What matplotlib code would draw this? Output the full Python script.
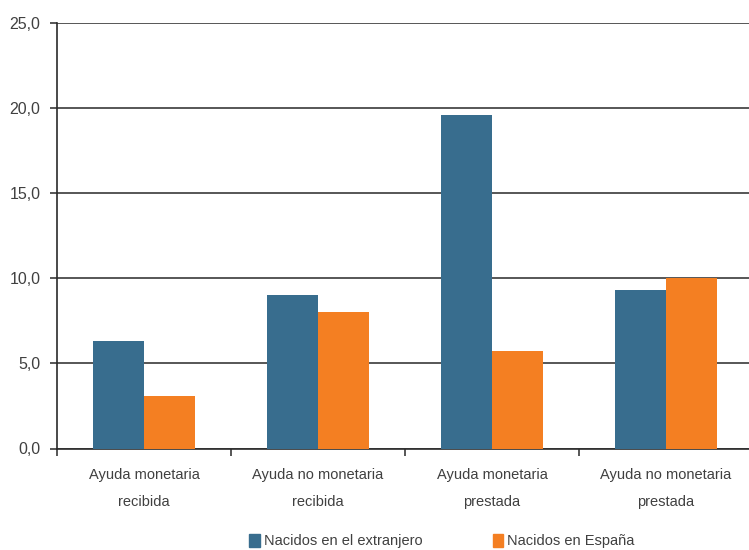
import numpy as np
import matplotlib.pyplot as plt
from matplotlib.patches import Patch
from matplotlib import font_manager

# Data
categories = ['Ayuda monetaria\nrecibida', 'Ayuda no monetaria\nrecibida',
              'Ayuda monetaria\nprestada', 'Ayuda no monetaria\nprestada']
extranjero = [6.3, 9.0, 19.6, 9.3]
espana = [3.1, 8.0, 5.7, 10.0]
series_names = ['Nacidos en el extranjero', 'Nacidos en España']

blue = '#386d8e'
orange = '#f47f22'
text_col = '#404040'

names = {f.name for f in font_manager.fontManager.ttflist}
family = ['Liberation Sans Narrow', 'DejaVu Sans'] if 'Liberation Sans Narrow' in names else ['Liberation Sans', 'DejaVu Sans']
plt.rcParams['font.family'] = family

fig = plt.figure(figsize=(7.49, 5.5), dpi=100)
# the plot area runs a few pixels past the right edge of the figure
ax = fig.add_axes([57 / 749, 101.5 / 550, 696 / 749, 425.5 / 550])

x = np.arange(len(categories))
w = 0.293
ax.bar(x - w / 2, extranjero, width=w, color=blue, zorder=3)
ax.bar(x + w / 2, espana, width=w, color=orange, zorder=3)

ax.set_xlim(-0.5, len(categories) - 0.5)
ax.set_ylim(0, 25)
ax.set_yticks(np.arange(0, 26, 5))
ax.set_yticklabels([f'{v:.1f}'.replace('.', ',') for v in np.arange(0, 26, 5)])
ax.yaxis.grid(True, color='#3a3a3a', linewidth=1.2, zorder=0)

ax.set_xticks(x)
ax.set_xticklabels(categories, linespacing=2.2)
ax.set_xticks(np.arange(-0.5, len(categories), 1), minor=True)
ax.tick_params(axis='x', which='major', length=0, pad=14, labelsize=10.5, labelcolor=text_col)
ax.tick_params(axis='x', which='minor', length=5, width=1.2, color='#3a3a3a', direction='out')
ax.tick_params(axis='y', length=5, width=1.2, color='#3a3a3a', labelsize=11.5, labelcolor=text_col, pad=7)

for s in ['top', 'right']:
    ax.spines[s].set_visible(False)
for s in ['left', 'bottom']:
    ax.spines[s].set_color('#2a2a2a')
    ax.spines[s].set_linewidth(1.2)

handles = [Patch(color=blue), Patch(color=orange)]
fig.legend(handles, series_names, loc='center', bbox_to_anchor=(0.59, 9 / 550), ncol=2,
           frameon=False, fontsize=10.5, handlelength=0.7, handleheight=1.0,
           handletextpad=0.3, columnspacing=4.8, labelcolor=text_col,
           borderaxespad=0, borderpad=0)

fig.savefig('out.png', dpi=100)
